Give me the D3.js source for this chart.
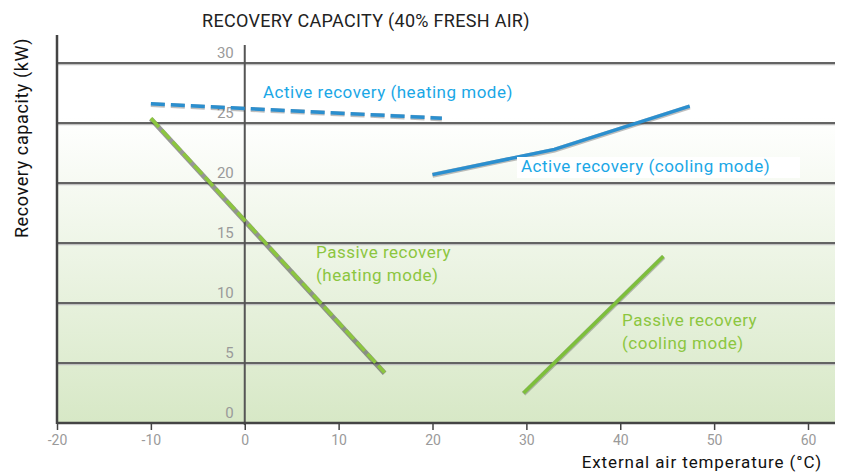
<!DOCTYPE html>
<html>
<head>
<meta charset="utf-8">
<script src="https://cdn.jsdelivr.net/npm/d3@7"></script>
<style>
  body { margin: 0; background: #fff; }
  svg text { font-family: Roboto, "DejaVu Sans", sans-serif; }
</style>
</head>
<body>
<div id="chart"></div>
<script>
// values
const xTicks = [-20, -10, 0, 10, 20, 30, 40, 50, 60];
const yTicks = [0, 5, 10, 15, 20, 25, 30];

const activeHeating = [[-10, 26.6], [21, 25.4]];
const activeCooling = [[20, 20.7], [33, 22.8], [47.4, 26.4]];
const passiveHeating = [[-10, 25.4], [14.9, 4.2]];
const passiveCooling = [[29.7, 2.5], [44.6, 13.9]];

const titleText = "RECOVERY CAPACITY (40% FRESH AIR)";
const xTitle = "External air temperature (°C)";
const yTitle = "Recovery capacity (kW)";

const width = 841, height = 472;
const margin = { left: 57, right: 835, top: 63, bottom: 423 };

const svg = d3.select("#chart").append("svg")
    .attr("width", width)
    .attr("height", height);

const xScale = d3.scaleLinear().domain([-20, 60]).range([57, 808]);
const yScale = d3.scaleLinear().domain([0, 30]).range([margin.bottom, margin.top]);

// background gradient
const defs = svg.append("defs");
const grad = defs.append("linearGradient")
    .attr("id", "bg").attr("x1", 0).attr("y1", 0).attr("x2", 0).attr("y2", 1);
grad.append("stop").attr("offset", "0%").attr("stop-color", "#ffffff");
grad.append("stop").attr("offset", "15%").attr("stop-color", "#ffffff");
grad.append("stop").attr("offset", "100%").attr("stop-color", "#d7e8c6");

svg.append("rect")
    .attr("x", margin.left).attr("y", margin.top)
    .attr("width", margin.right - margin.left).attr("height", margin.bottom - margin.top)
    .attr("fill", "url(#bg)");

// gridlines
const grid = svg.append("g");
grid.selectAll("line.shadow")
    .data(yTicks.filter(d => d > 0))
    .enter().append("line")
    .attr("class", "shadow")
    .attr("x1", margin.left).attr("x2", margin.right)
    .attr("y1", d => yScale(d) + 1.5).attr("y2", d => yScale(d) + 1.5)
    .attr("stroke", "#c0c0c0").attr("stroke-width", 1.5);
grid.selectAll("line.main")
    .data(yTicks.filter(d => d > 0))
    .enter().append("line")
    .attr("class", "main")
    .attr("x1", margin.left).attr("x2", margin.right)
    .attr("y1", d => yScale(d)).attr("y2", d => yScale(d))
    .attr("stroke", "#636363").attr("stroke-width", 1.8);

// vertical line at 0
svg.append("line")
    .attr("x1", xScale(0)).attr("x2", xScale(0))
    .attr("y1", 45).attr("y2", margin.bottom + 2)
    .attr("stroke", "#555").attr("stroke-width", 2);

// y tick labels next to the zero line
const yAxis = d3.axisLeft(yScale).tickValues(yTicks).tickSize(0).tickPadding(11);
const yg = svg.append("g")
    .attr("transform", `translate(${xScale(0)},0)`)
    .call(yAxis);
yg.select(".domain").remove();
yg.selectAll("text")
    .attr("dy", "-0.35em")
    .attr("fill", "#9a9a9a")
    .attr("font-size", "15px");

// x axis
const xAxis = d3.axisBottom(xScale).tickValues(xTicks).tickSize(7).tickPadding(5)
    .tickFormat(d => d);
const xg = svg.append("g")
    .attr("transform", `translate(0,${margin.bottom})`)
    .call(xAxis);
xg.select(".domain").remove();
xg.selectAll(".tick line").attr("stroke", "#444").attr("stroke-width", 1.5);
xg.selectAll("text")
    .attr("fill", "#9a9a9a")
    .attr("font-size", "14px");

svg.append("line")
    .attr("x1", margin.left).attr("x2", margin.right)
    .attr("y1", margin.bottom).attr("y2", margin.bottom)
    .attr("stroke", "#444").attr("stroke-width", 2.5);
svg.append("line")
    .attr("x1", margin.left).attr("x2", margin.left)
    .attr("y1", 35).attr("y2", margin.bottom + 1)
    .attr("stroke", "#444").attr("stroke-width", 2.5);

// series
const line = d3.line().x(d => xScale(d[0])).y(d => yScale(d[1]));

function drawSeries(data, color, dash, shadowDash, shadowOpacity) {
    svg.append("path")
        .attr("d", line(data))
        .attr("fill", "none")
        .attr("stroke", "#444")
        .attr("stroke-opacity", shadowOpacity)
        .attr("stroke-width", 5)
        .attr("stroke-dasharray", shadowDash)
        .attr("transform", "translate(0,0.7)");
    svg.append("path")
        .attr("d", line(data))
        .attr("fill", "none")
        .attr("stroke", color)
        .attr("stroke-width", 3.5)
        .attr("stroke-dasharray", dash);
}

drawSeries(passiveHeating, "#8cc63f", "12 4", null, 0.55);
drawSeries(passiveCooling, "#7dbf3b", null, null, 0.35);
drawSeries(activeHeating, "#2b8fcf", "14 6", "14 6", 0.35);
drawSeries(activeCooling, "#2b8fcf", null, null, 0.35);

// series labels
const labels = [
    { lines: ["Active recovery (heating mode)"], x: 263, y: 98, color: "#1aa7e6" },
    { lines: ["Active recovery (cooling mode)"], x: 521, y: 172, color: "#1aa7e6", box: true },
    { lines: ["Passive recovery", "(heating mode)"], x: 316, y: 258, color: "#8cc63f" },
    { lines: ["Passive recovery", "(cooling mode)"], x: 622, y: 326, color: "#8cc63f" }
];

labels.forEach(l => {
    if (l.box) {
        svg.append("rect")
            .attr("x", l.x - 4).attr("y", l.y - 15)
            .attr("width", 283).attr("height", 21)
            .attr("fill", "#fff");
    }
    const t = svg.append("text")
        .attr("x", l.x).attr("y", l.y)
        .attr("fill", l.color)
        .attr("font-size", "17px")
        .attr("letter-spacing", "0.5px");
    l.lines.forEach((s, i) => {
        t.append("tspan").attr("x", l.x).attr("dy", i === 0 ? 0 : 23).text(s);
    });
});

// titles
svg.append("text")
    .attr("x", 202).attr("y", 27)
    .attr("fill", "#222")
    .attr("font-size", "18px")
    .attr("letter-spacing", "0.3px")
    .text(titleText);

svg.append("text")
    .attr("x", 822).attr("y", 467.5)
    .attr("text-anchor", "end")
    .attr("fill", "#111")
    .attr("font-size", "17px")
    .attr("letter-spacing", "0.9px")
    .text(xTitle);

svg.append("text")
    .attr("transform", "translate(28,138) rotate(-90)")
    .attr("text-anchor", "middle")
    .attr("fill", "#111")
    .attr("font-size", "18px")
    .attr("letter-spacing", "0.6px")
    .text(yTitle);
</script>
</body>
</html>
